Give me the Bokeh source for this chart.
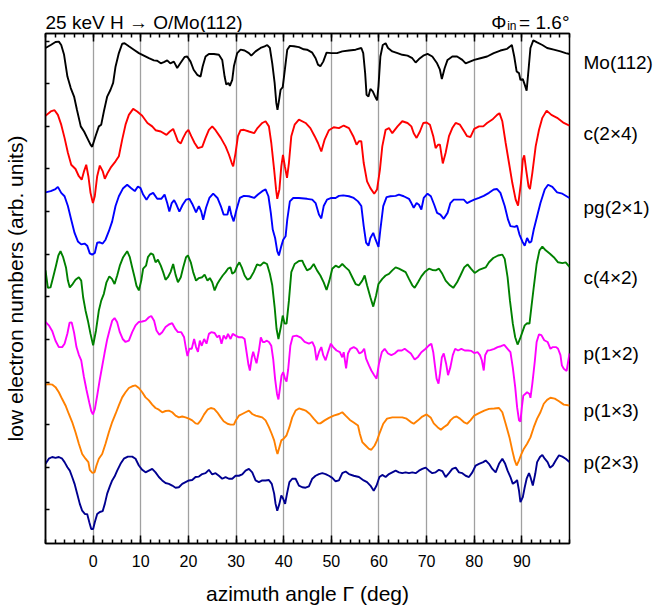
from bokeh.plotting import figure
from bokeh.models import Range1d, FixedTicker, LinearAxis
from bokeh.layouts import column, row
from bokeh.core.properties import value
from bokeh.embed import file_html
from bokeh.resources import INLINE

# ---------------- data (azimuth angle in deg, signal in arb. units, offset stacked) ----------------
ANGLE_TICKS = [0, 10, 20, 30, 40, 50, 60, 70, 80, 90]
ANGLE_MINOR = list(range(-10, 101, 2))
SIGNAL_TICKS = list(range(0, 12))

MO112 = [(-10, 10.84), (-8.9, 10.91), (-7.9, 10.98), (-7.2, 10.99), (-6.7, 10.91), (-6.1, 10.68),
         (-5.4, 10.17), (-4.7, 9.9), (-4.0, 9.7), (-3.4, 9.39), (-2.6, 9.0), (-1.9, 8.88), (-1.25, 8.73),
         (-0.55, 8.57), (-0.2, 8.52), (0.5, 8.77), (1.2, 9.0), (1.7, 9.04), (2.25, 9.35), (2.95, 9.7),
         (3.65, 9.86), (4.2, 10.02), (4.7, 10.4), (5.4, 10.72), (6.1, 10.94), (6.6, 10.95), (7.5, 10.88),
         (8.55, 10.8), (9.6, 10.72), (10.65, 10.66), (11.7, 10.6), (12.75, 10.55), (13.45, 10.54),
         (14.2, 10.48), (14.85, 10.51), (15.55, 10.55), (16.2, 10.48), (16.95, 10.52), (17.65, 10.37),
         (18.3, 10.48), (19.2, 10.63), (19.75, 10.64), (20.45, 10.52), (21.1, 10.33), (21.85, 10.21),
         (22.55, 10.17), (23.0, 10.41), (23.6, 10.64), (24.3, 10.7), (25.35, 10.7), (26.4, 10.68),
         (27.1, 10.56), (27.6, 10.17), (27.95, 9.98), (28.4, 10.02), (28.7, 9.95), (29.2, 10.09),
         (29.55, 10.41), (30.25, 10.72), (30.95, 10.8), (31.8, 10.78), (32.7, 10.72), (33.2, 10.66),
         (34.1, 10.76), (35.15, 10.84), (36.0, 10.88), (36.55, 10.91), (37.1, 10.84), (37.6, 10.48),
         (38.1, 10.02), (38.45, 9.55), (38.7, 9.39), (39.05, 9.63), (39.35, 9.86), (39.8, 9.92),
         (40.25, 10.33), (40.75, 10.8), (41.3, 10.89), (42.15, 10.88), (43.2, 10.86), (44.2, 10.81),
         (44.9, 10.8), (46.0, 10.73), (46.7, 10.6), (47.2, 10.45), (47.7, 10.41), (48.3, 10.52),
         (49.0, 10.73), (50.0, 10.72), (51.2, 10.72), (52.3, 10.76), (53.7, 10.78), (55.1, 10.8),
         (56.3, 10.84), (56.7, 10.72), (57.1, 10.25), (57.4, 9.74), (57.8, 9.7), (58.2, 9.88),
         (58.7, 9.82), (59.2, 9.7), (59.6, 9.61), (59.9, 9.94), (60.3, 10.64), (60.8, 10.91),
         (61.4, 10.95), (61.9, 10.84), (62.8, 10.76), (63.9, 10.72), (64.9, 10.68), (66.0, 10.66),
         (67.0, 10.6), (67.7, 10.5), (68.4, 10.58), (69.3, 10.66), (70.2, 10.7), (71.2, 10.64),
         (72.2, 10.48), (72.8, 10.33), (73.2, 10.11), (73.8, 10.37), (74.4, 10.56), (75.4, 10.64),
         (76.4, 10.64), (77.5, 10.56), (78.2, 10.48), (79.1, 10.52), (80.0, 10.56), (81.3, 10.6),
         (82.7, 10.64), (84.1, 10.72), (85.5, 10.78), (86.9, 10.82), (87.9, 10.91), (88.4, 10.64),
         (88.9, 10.29), (89.4, 10.25), (89.7, 10.09), (90.2, 10.11), (90.6, 9.98), (91.0, 9.84),
         (91.4, 10.33), (91.8, 10.84), (92.4, 11.02), (93.2, 10.97), (94.3, 10.91), (95.3, 10.84),
         (96.7, 10.8), (98.1, 10.76), (99.2, 10.72), (100, 10.7)]

C2X4 = [(-10, 9.25), (-8.9, 9.35), (-8.1, 9.38), (-7.4, 9.27), (-6.7, 9.04), (-6.0, 8.73), (-5.3, 8.38),
        (-4.6, 8.1), (-3.7, 8.0), (-3.0, 7.83), (-2.4, 7.75), (-1.9, 7.95), (-1.45, 8.1), (-1.0, 7.83),
        (-0.55, 7.44), (-0.05, 7.2), (0.35, 7.36), (0.85, 7.83), (1.4, 8.08), (2.0, 7.95), (2.45, 7.77),
        (3.1, 7.92), (3.8, 8.05), (4.7, 8.18), (5.4, 8.3), (6.1, 8.69), (6.8, 9.04), (7.5, 9.27),
        (8.4, 9.41), (9.25, 9.35), (10.3, 9.25), (11.4, 9.08), (12.4, 9.0), (13.1, 8.91), (14.2, 8.88),
        (15.4, 8.8), (16.1, 8.88), (16.8, 8.94), (17.3, 8.8), (17.8, 8.65), (18.4, 8.6), (18.9, 8.73),
        (19.5, 8.86), (20.0, 8.92), (20.6, 8.77), (21.3, 8.61), (22.0, 8.49), (22.9, 8.52), (23.6, 8.73),
        (24.3, 8.92), (25.0, 9.0), (25.7, 8.91), (26.8, 8.73), (27.8, 8.53), (28.5, 8.34), (29.1, 8.14),
        (29.4, 8.06), (29.9, 8.38), (30.4, 8.77), (30.95, 8.91), (31.65, 8.92), (32.7, 8.88),
        (33.8, 8.84), (34.5, 8.96), (35.5, 9.08), (36.2, 9.12), (36.9, 9.0), (37.4, 8.61), (38.0, 7.98),
        (38.4, 7.52), (38.65, 7.3), (39.1, 7.52), (39.5, 8.06), (39.85, 8.33), (40.25, 8.06),
        (40.7, 7.79), (41.1, 8.14), (41.6, 8.77), (42.3, 9.04), (43.2, 9.16), (44.6, 9.08), (45.6, 8.96),
        (46.5, 8.77), (47.2, 8.61), (47.9, 8.41), (48.6, 8.69), (49.5, 8.91), (50.5, 8.98), (51.6, 8.96),
        (52.6, 9.02), (53.7, 8.96), (54.6, 8.77), (55.3, 8.57), (55.8, 8.65), (56.3, 8.65), (56.8, 8.14),
        (57.5, 7.71), (58.2, 7.55), (59.0, 7.42), (59.6, 7.52), (60.2, 7.98), (60.7, 8.53), (61.4, 8.92),
        (62.1, 8.96), (62.8, 8.84), (63.9, 9.0), (64.9, 9.12), (66.0, 9.08), (66.8, 9.0), (67.3, 8.84),
        (67.9, 8.73), (68.6, 8.88), (69.3, 9.08), (70.0, 9.09), (70.7, 9.04), (71.4, 8.77), (71.9, 8.49),
        (72.4, 8.57), (72.8, 8.57), (73.4, 8.13), (74.0, 8.38), (74.7, 8.77), (75.4, 8.96), (76.1, 9.08),
        (77.0, 9.04), (77.9, 8.88), (78.5, 8.77), (79.2, 8.75), (80.0, 8.94), (81.0, 9.0), (81.9, 9.0),
        (82.7, 9.08), (83.8, 9.16), (84.8, 9.27), (85.3, 9.31), (85.9, 9.12), (86.6, 8.61), (87.3, 8.14),
        (88.0, 7.67), (88.7, 7.28), (89.2, 7.14), (89.8, 7.67), (90.2, 8.22), (90.5, 8.32), (90.9, 7.98),
        (91.4, 7.59), (91.7, 7.53), (92.2, 7.91), (92.9, 8.53), (93.6, 8.92), (94.3, 9.2), (95.2, 9.37),
        (96.2, 9.27), (97.4, 9.2), (98.8, 9.08), (100, 9.02)]

PG2X1 = [(-10, 7.45), (-8.9, 7.48), (-7.9, 7.53), (-7.4, 7.58), (-6.7, 7.44), (-6.0, 7.36), (-5.3, 7.13),
         (-4.6, 6.81), (-3.9, 6.5), (-3.2, 6.3), (-2.5, 6.23), (-1.8, 6.25), (-1.25, 6.2), (-0.7, 6.02),
         (-0.2, 5.99), (0.35, 6.03), (0.85, 6.27), (1.4, 6.28), (2.0, 6.25), (2.6, 6.34), (3.3, 6.54),
         (4.0, 6.77), (4.7, 7.13), (5.4, 7.36), (6.3, 7.55), (7.15, 7.63), (8.0, 7.55), (8.75, 7.48),
         (9.4, 7.59), (9.95, 7.55), (10.5, 7.4), (11.2, 7.28), (11.9, 7.4), (12.6, 7.44), (13.45, 7.3),
         (14.3, 7.3), (15.0, 7.4), (15.55, 7.2), (16.0, 7.0), (16.5, 7.2), (17.0, 7.27), (17.5, 7.16),
         (18.1, 7.0), (18.8, 7.16), (19.5, 7.28), (20.2, 7.3), (20.9, 7.16), (21.6, 6.98), (22.2, 7.13),
         (22.7, 7.0), (23.1, 6.81), (23.7, 7.09), (24.4, 7.32), (25.2, 7.42), (26.1, 7.32), (26.8, 7.13),
         (27.4, 6.93), (28.2, 6.93), (28.6, 7.13), (29.0, 6.93), (29.5, 6.77), (30.1, 7.05), (30.8, 7.32),
         (31.65, 7.37), (32.7, 7.36), (33.8, 7.32), (34.6, 7.4), (35.5, 7.48), (36.2, 7.52), (36.8, 7.36),
         (37.3, 6.97), (37.7, 6.58), (38.2, 6.38), (38.65, 6.07), (39.0, 5.97), (39.5, 6.19), (39.9, 6.34),
         (40.4, 6.42), (40.75, 6.81), (41.3, 7.24), (42.0, 7.32), (43.2, 7.32), (44.9, 7.3), (46.0, 7.28),
         (46.7, 7.2), (47.4, 6.93), (47.9, 6.84), (48.4, 7.13), (49.1, 7.28), (50.0, 7.32), (50.9, 7.32),
         (51.6, 7.37), (52.5, 7.38), (53.7, 7.36), (54.7, 7.32), (55.6, 7.24), (56.3, 7.13), (56.8, 6.66),
         (57.3, 6.27), (57.8, 6.2), (58.2, 6.38), (58.8, 6.5), (59.3, 6.34), (59.9, 6.17), (60.3, 6.58),
         (60.9, 7.13), (61.6, 7.34), (62.4, 7.36), (63.5, 7.37), (64.2, 7.4), (65.2, 7.36), (66.3, 7.3),
         (66.8, 7.2), (67.3, 7.09), (67.9, 7.2), (68.4, 7.16), (68.9, 7.05), (69.4, 7.32), (70.2, 7.42),
         (70.9, 7.36), (71.6, 7.16), (72.2, 6.97), (72.9, 6.93), (73.6, 6.83), (74.4, 6.97), (75.0, 7.2),
         (75.7, 7.28), (76.8, 7.28), (77.8, 7.28), (78.5, 7.2), (79.2, 7.24), (80.0, 7.28), (81.0, 7.32),
         (82.0, 7.37), (83.1, 7.44), (84.1, 7.52), (84.8, 7.53), (85.5, 7.44), (86.4, 7.13), (87.1, 6.81),
         (87.6, 6.66), (88.5, 6.64), (89.0, 6.67), (89.5, 6.46), (90.1, 6.3), (90.6, 6.2), (91.1, 6.38),
         (91.6, 6.27), (92.0, 6.3), (92.5, 6.58), (93.2, 6.89), (93.9, 7.2), (94.8, 7.52), (95.5, 7.63),
         (96.4, 7.58), (97.4, 7.45), (98.5, 7.42), (100, 7.32)]

C4X2 = [(-10, 5.62), (-9.5, 5.21), (-8.95, 5.22), (-8.4, 5.46), (-7.8, 5.73), (-7.3, 5.97), (-6.85, 6.07),
        (-6.3, 5.93), (-5.7, 5.69), (-5.3, 5.38), (-4.9, 5.22), (-4.3, 5.3), (-3.7, 5.4), (-3.0, 5.46),
        (-2.5, 5.38), (-2.1, 4.99), (-1.6, 4.68), (-1.1, 4.44), (-0.55, 4.13), (0.0, 3.86), (0.6, 4.21),
        (1.2, 4.68), (1.7, 4.91), (2.25, 5.07), (2.8, 5.34), (3.4, 5.48), (3.95, 5.42), (4.5, 5.3),
        (5.05, 5.5), (5.6, 5.73), (6.3, 5.93), (7.15, 6.07), (7.7, 5.93), (8.2, 5.69), (8.7, 5.46),
        (9.1, 5.26), (9.6, 5.15), (10.1, 5.38), (10.5, 5.66), (11.1, 5.73), (11.5, 5.93), (12.1, 6.02),
        (12.6, 5.99), (13.1, 5.81), (13.6, 5.87), (14.2, 5.73), (14.7, 5.58), (15.2, 5.4), (15.7, 5.46),
        (16.25, 5.58), (16.8, 5.77), (17.3, 5.52), (17.8, 5.34), (18.4, 5.46), (18.9, 5.69), (19.5, 5.93),
        (19.9, 5.97), (20.5, 5.81), (21.0, 5.58), (21.6, 5.38), (22.2, 5.44), (22.9, 5.46), (23.4, 5.52),
        (24.0, 5.38), (24.5, 5.44), (25.0, 5.34), (25.5, 5.15), (26.05, 5.3), (26.6, 5.4), (27.2, 5.5),
        (27.8, 5.58), (28.3, 5.66), (28.85, 5.69), (29.2, 5.54), (29.7, 5.58), (30.25, 5.73), (30.7, 5.81),
        (31.2, 5.69), (31.8, 5.5), (32.4, 5.4), (33.0, 5.44), (33.7, 5.58), (34.4, 5.76), (35.1, 5.73),
        (35.8, 5.81), (36.5, 5.77), (37.1, 5.54), (37.6, 5.27), (38.1, 4.76), (38.5, 4.25), (38.9, 4.01),
        (39.4, 4.29), (39.8, 4.56), (40.2, 4.37), (40.6, 4.37), (41.1, 4.91), (41.6, 5.58), (42.3, 5.77),
        (43.2, 5.84), (43.9, 5.85), (44.2, 5.77), (44.9, 5.62), (45.6, 5.66), (46.3, 5.77), (47.0, 5.62),
        (47.7, 5.5), (48.4, 5.34), (49.0, 5.16), (49.6, 5.38), (50.2, 5.66), (50.9, 5.73), (51.6, 5.69),
        (52.3, 5.77), (53.0, 5.69), (53.7, 5.62), (54.4, 5.46), (55.1, 5.3), (55.8, 5.27), (56.5, 5.38),
        (57.0, 5.5), (57.5, 5.27), (58.2, 4.99), (58.8, 4.77), (59.4, 5.03), (59.9, 5.3), (60.7, 5.42),
        (61.4, 5.5), (62.1, 5.54), (62.8, 5.62), (63.5, 5.69), (64.2, 5.66), (64.9, 5.62), (65.6, 5.58),
        (66.3, 5.42), (67.0, 5.27), (67.5, 5.21), (68.2, 5.34), (68.9, 5.48), (69.6, 5.58), (70.5, 5.66),
        (71.2, 5.63), (71.9, 5.62), (72.6, 5.66), (73.3, 5.54), (74.0, 5.38), (74.9, 5.27), (75.6, 5.21),
        (76.4, 5.34), (77.1, 5.5), (77.9, 5.69), (78.6, 5.76), (79.3, 5.66), (80.1, 5.56), (81.0, 5.63),
        (81.7, 5.66), (82.4, 5.69), (83.1, 5.81), (84.0, 5.91), (85.0, 5.97), (85.9, 5.99), (86.4, 5.89),
        (87.0, 5.46), (87.5, 4.91), (88.1, 4.37), (88.6, 4.05), (89.1, 3.88), (89.6, 4.01), (90.1, 4.17),
        (90.6, 4.33), (91.1, 4.38), (91.6, 4.37), (92.0, 4.76), (92.5, 5.23), (93.1, 5.77), (93.7, 6.09),
        (94.3, 6.18), (95.0, 6.09), (95.9, 6.01), (96.7, 5.93), (97.6, 5.81), (98.5, 5.79), (99.2, 5.81),
        (100, 5.7)]

P1X2 = [(-10, 4.41), (-9.3, 4.33), (-8.6, 4.2), (-7.9, 3.97), (-7.2, 3.82), (-6.5, 3.82), (-6.0, 3.9),
        (-5.4, 4.14), (-4.95, 4.39), (-4.5, 4.4), (-4.0, 4.16), (-3.5, 3.82), (-3.0, 3.64), (-2.5, 3.51),
        (-1.95, 3.13), (-1.4, 2.82), (-0.8, 2.51), (-0.4, 2.32), (-0.05, 2.24), (0.35, 2.36), (0.85, 2.68),
        (1.4, 3.06), (1.9, 3.37), (2.4, 3.68), (2.95, 4.0), (3.5, 4.24), (4.0, 4.44), (4.5, 4.5),
        (5.05, 4.4), (5.6, 4.17), (6.2, 4.01), (6.8, 3.94), (7.5, 3.97), (8.2, 4.17), (8.9, 4.33),
        (9.6, 4.41), (10.3, 4.42), (11.0, 4.44), (11.7, 4.52), (12.2, 4.55), (12.8, 4.44), (13.3, 4.21),
        (13.9, 4.11), (14.5, 4.17), (15.2, 4.29), (15.9, 4.35), (16.6, 4.38), (17.3, 4.24), (17.8, 4.17),
        (18.5, 4.17), (19.1, 4.05), (19.5, 3.78), (19.8, 3.61), (20.2, 3.78), (20.7, 3.78), (21.2, 4.01),
        (21.6, 3.82), (22.0, 3.71), (22.4, 3.97), (22.8, 3.85), (23.3, 4.01), (23.8, 3.9), (24.3, 4.13),
        (24.8, 4.17), (25.5, 4.15), (26.05, 4.05), (26.5, 4.09), (26.95, 3.9), (27.4, 4.09), (27.9, 4.01),
        (28.3, 4.13), (28.85, 4.01), (29.3, 4.13), (29.9, 4.09), (30.6, 4.05), (31.3, 4.05), (31.8, 4.01),
        (32.2, 3.71), (32.6, 3.41), (32.9, 3.27), (33.3, 3.57), (33.6, 3.71), (33.95, 3.57), (34.3, 3.44),
        (34.8, 3.74), (35.2, 4.05), (35.6, 3.94), (36.0, 3.94), (36.4, 3.97), (36.9, 3.94), (37.4, 3.85),
        (37.8, 3.54), (38.2, 3.07), (38.6, 2.72), (38.9, 2.59), (39.2, 2.84), (39.55, 3.15), (39.9, 3.23),
        (40.3, 3.07), (40.6, 3.01), (40.95, 3.3), (41.4, 3.85), (41.9, 4.07), (42.7, 4.09), (43.6, 4.04),
        (44.4, 3.94), (45.3, 3.9), (46.0, 3.94), (46.5, 3.82), (46.9, 3.51), (47.4, 3.7), (47.9, 3.82),
        (48.3, 3.63), (48.8, 3.51), (49.3, 3.7), (49.9, 3.9), (50.4, 3.82), (51.1, 3.74), (51.8, 3.7),
        (52.3, 3.58), (52.6, 3.7), (53.1, 3.32), (53.5, 3.67), (54.0, 3.78), (54.7, 3.82), (55.3, 3.78),
        (55.9, 3.67), (56.4, 3.7), (56.9, 3.78), (57.3, 3.55), (57.9, 3.39), (58.4, 3.27), (59.0, 3.16),
        (59.5, 3.08), (60.0, 3.43), (60.6, 3.7), (61.2, 3.78), (61.9, 3.67), (62.6, 3.63), (63.3, 3.67),
        (64.0, 3.74), (64.8, 3.74), (65.4, 3.78), (66.0, 3.73), (66.7, 3.67), (67.5, 3.53), (68.2, 3.59),
        (68.9, 3.7), (69.8, 3.78), (70.5, 3.86), (71.0, 3.9), (71.4, 3.7), (71.8, 3.34), (72.1, 3.08),
        (72.5, 2.96), (72.8, 3.19), (73.2, 3.58), (73.6, 3.67), (74.1, 3.43), (74.5, 3.16), (75.0, 3.35),
        (75.5, 3.63), (76.0, 3.78), (76.6, 3.74), (77.3, 3.78), (78.0, 3.74), (78.7, 3.74), (79.4, 3.73),
        (80.0, 3.68), (80.7, 3.7), (81.2, 3.63), (81.6, 3.51), (82.0, 3.27), (82.3, 3.63), (82.8, 3.74),
        (83.4, 3.75), (84.2, 3.78), (84.9, 3.82), (85.6, 3.84), (86.3, 3.87), (87.0, 3.78), (87.6, 3.7),
        (88.1, 3.34), (88.6, 2.88), (89.0, 2.41), (89.4, 2.1), (89.7, 2.07), (90.0, 2.41), (90.3, 2.68),
        (90.7, 2.72), (91.1, 2.76), (91.6, 2.72), (91.8, 2.63), (92.2, 2.96), (92.7, 3.47), (93.1, 3.94),
        (93.6, 4.12), (94.1, 4.1), (94.7, 3.98), (95.4, 3.94), (96.0, 3.78), (96.5, 3.82), (97.2, 3.82),
        (97.6, 3.78), (98.1, 3.63), (98.4, 3.39), (98.8, 3.31), (99.4, 3.26), (100, 3.67)]

P1X3 = [(-10, 2.94), (-9.3, 2.95), (-8.6, 2.94), (-7.9, 2.88), (-7.2, 2.76), (-6.5, 2.6), (-5.8, 2.45),
        (-5.1, 2.25), (-4.4, 2.06), (-3.7, 1.82), (-3.0, 1.55), (-2.3, 1.31), (-1.6, 1.2), (-1.0, 1.12),
        (-0.7, 0.94), (-0.2, 0.87), (0.3, 0.88), (0.7, 1.04), (1.2, 1.2), (1.9, 1.31), (2.6, 1.55),
        (3.3, 1.82), (4.0, 2.06), (4.7, 2.25), (5.4, 2.45), (6.1, 2.64), (6.8, 2.76), (7.5, 2.86),
        (8.2, 2.9), (8.9, 2.92), (9.6, 2.86), (10.3, 2.76), (11.0, 2.64), (11.7, 2.57), (12.4, 2.47),
        (13.1, 2.39), (13.8, 2.35), (14.5, 2.29), (15.2, 2.32), (15.9, 2.33), (16.6, 2.29), (17.3, 2.21),
        (18.0, 2.17), (18.7, 2.19), (19.4, 2.17), (20.1, 2.14), (20.8, 2.1), (21.5, 2.03), (22.0, 2.02),
        (22.6, 2.1), (23.3, 2.24), (24.0, 2.35), (24.7, 2.39), (25.4, 2.37), (26.05, 2.29), (26.8, 2.17),
        (27.4, 2.08), (28.2, 2.02), (28.85, 2.0), (29.55, 2.0), (30.0, 2.11), (30.6, 2.21), (31.3, 2.25),
        (32.0, 2.29), (32.7, 2.33), (33.4, 2.25), (34.1, 2.21), (34.8, 2.19), (35.5, 2.17), (36.2, 2.1),
        (36.9, 1.94), (37.5, 1.78), (38.0, 1.63), (38.4, 1.43), (38.7, 1.31), (39.1, 1.47), (39.5, 1.63),
        (40.0, 1.67), (40.6, 1.75), (41.2, 1.94), (41.8, 2.17), (42.5, 2.33), (43.2, 2.38), (44.1, 2.35),
        (44.6, 2.33), (45.5, 2.25), (46.3, 2.14), (47.2, 2.03), (47.7, 2.03), (48.6, 2.1), (49.5, 2.16),
        (50.5, 2.21), (51.6, 2.25), (52.3, 2.29), (53.0, 2.21), (53.9, 2.11), (54.7, 2.05), (55.6, 1.98),
        (56.0, 1.78), (56.5, 1.59), (57.2, 1.51), (57.9, 1.43), (58.4, 1.41), (59.1, 1.51), (59.6, 1.63),
        (60.2, 1.82), (60.9, 2.02), (61.7, 2.14), (62.8, 2.17), (63.8, 2.17), (64.9, 2.17), (65.8, 2.14),
        (66.7, 2.06), (67.3, 2.02), (68.2, 2.1), (69.1, 2.19), (70.0, 2.24), (70.9, 2.16), (71.5, 2.03),
        (72.3, 1.94), (73.0, 1.88), (73.6, 1.94), (74.4, 2.0), (75.0, 2.1), (75.7, 2.17), (76.3, 2.19),
        (77.0, 2.14), (77.8, 2.06), (78.5, 2.02), (79.2, 2.1), (80.0, 2.21), (81.0, 2.27), (82.1, 2.33),
        (83.1, 2.37), (84.2, 2.38), (85.2, 2.39), (85.9, 2.29), (86.6, 2.02), (87.4, 1.7), (88.0, 1.39),
        (88.5, 1.16), (88.9, 1.04), (89.4, 1.16), (89.9, 1.31), (90.4, 1.43), (91.1, 1.55), (91.8, 1.7),
        (92.5, 1.94), (93.2, 2.14), (93.9, 2.29), (94.6, 2.49), (95.3, 2.58), (96.0, 2.63), (96.9, 2.61),
        (97.8, 2.55), (98.8, 2.47), (100, 2.45)]

P2X3 = [(-10, 1.08), (-9.3, 1.2), (-8.6, 1.24), (-7.9, 1.22), (-7.2, 1.24), (-6.5, 1.2), (-6.0, 1.12),
        (-5.4, 1.0), (-4.9, 0.92), (-4.4, 0.77), (-3.9, 0.61), (-3.35, 0.38), (-2.8, 0.14), (-2.3, -0.02),
        (-1.7, -0.1), (-1.25, -0.1), (-0.8, -0.29), (-0.4, -0.45), (0.0, -0.45), (0.35, -0.29),
        (0.85, -0.1), (1.4, -0.05), (2.0, -0.03), (2.45, 0.14), (2.95, 0.38), (3.5, 0.55), (4.0, 0.69),
        (4.5, 0.78), (5.05, 0.92), (5.75, 1.08), (6.45, 1.2), (7.3, 1.25), (8.2, 1.25), (8.9, 1.2),
        (9.6, 1.04), (10.3, 0.94), (11.0, 0.88), (11.7, 0.92), (12.4, 0.96), (13.1, 0.88), (13.8, 0.77),
        (14.5, 0.69), (15.2, 0.63), (15.9, 0.61), (16.6, 0.57), (17.3, 0.52), (18.0, 0.53), (18.7, 0.61),
        (19.4, 0.65), (20.1, 0.69), (20.8, 0.7), (21.5, 0.77), (22.2, 0.78), (22.9, 0.84), (23.6, 0.86),
        (24.3, 0.94), (25.0, 0.83), (25.7, 0.86), (26.4, 0.8), (27.1, 0.73), (27.8, 0.77), (28.5, 0.73),
        (29.2, 0.73), (29.9, 0.8), (30.6, 0.8), (31.3, 0.83), (32.0, 0.92), (32.7, 0.96), (33.4, 0.88),
        (34.1, 0.69), (34.8, 0.65), (35.5, 0.69), (36.2, 0.69), (36.9, 0.7), (37.5, 0.61), (38.0, 0.38),
        (38.3, 0.14), (38.65, -0.02), (39.1, 0.14), (39.5, 0.34), (39.9, 0.26), (40.3, 0.14), (40.7, 0.38),
        (41.2, 0.65), (41.8, 0.73), (42.5, 0.73), (43.2, 0.57), (43.9, 0.53), (44.6, 0.52), (45.3, 0.55),
        (46.0, 0.73), (46.7, 0.8), (47.4, 0.84), (48.1, 0.86), (48.8, 0.84), (49.5, 0.8), (50.2, 0.75),
        (50.9, 0.67), (51.6, 0.69), (52.3, 0.86), (53.0, 0.9), (53.7, 0.84), (54.7, 0.8), (55.8, 0.77),
        (56.8, 0.69), (57.5, 0.65), (58.2, 0.57), (58.9, 0.45), (59.5, 0.57), (60.1, 0.77), (60.7, 0.82),
        (61.4, 0.77), (62.1, 0.84), (62.8, 0.88), (63.5, 0.92), (64.2, 0.88), (64.9, 0.86), (65.6, 0.88),
        (66.3, 0.86), (67.0, 0.88), (67.7, 0.86), (68.4, 0.92), (69.1, 0.96), (69.8, 0.99), (70.5, 0.92),
        (71.2, 0.86), (71.9, 0.88), (72.6, 0.94), (73.3, 0.91), (74.0, 0.77), (74.7, 0.86), (75.4, 0.96),
        (76.1, 0.99), (76.8, 0.88), (77.5, 0.86), (78.2, 0.8), (78.9, 0.77), (79.6, 0.88), (80.3, 1.04),
        (81.0, 1.08), (81.9, 1.12), (82.4, 1.16), (83.1, 1.08), (83.8, 0.96), (84.5, 0.88), (85.2, 1.08),
        (85.9, 1.2), (86.5, 1.08), (87.0, 0.92), (87.6, 0.77), (88.1, 0.61), (88.6, 0.65), (89.0, 0.7),
        (89.4, 0.45), (89.7, 0.18), (90.2, 0.3), (90.6, 0.53), (91.0, 0.73), (91.5, 0.86), (91.8, 0.77),
        (92.3, 0.57), (92.8, 0.84), (93.2, 1.12), (93.8, 1.24), (94.3, 1.29), (94.8, 1.2), (95.4, 1.12),
        (95.9, 0.99), (96.5, 1.04), (97.1, 1.16), (97.8, 1.28), (98.5, 1.25), (99.2, 1.2), (100, 1.12)]

SERIES_NAMES = ["Mo(112)", "c(2\u00d74)", "pg(2\u00d71)", "c(4\u00d72)", "p(1\u00d72)", "p(1\u00d73)", "p(2\u00d73)"]
SERIES_DATA = [MO112, C2X4, PG2X1, C4X2, P1X2, P1X3, P2X3]
SERIES_COLORS = ["#000000", "#ff0000", "#0000ff", "#008000", "#ff00ff", "#ff8000", "#000090"]
NAME_Y = [10.5, 8.83, 7.1, 5.45, 3.67, 2.33, 1.11]

TITLE_TEXT = "25 keV H \u2192 O/Mo(112)"
PHI_TEXT = "\u03a6"
PHI_SUB = "in"
PHI_VALUE = "= 1.6\u00b0"

FONT = "Liberation Sans"
X_RANGE = Range1d(-10, 100)
Y_RANGE = Range1d(-0.79, 11.18)

# ---------------- top strip with the heading texts (strip coordinates in px) ----------------
head = figure(width=664, height=32, x_range=Range1d(0, 664), y_range=Range1d(0, 32),
              output_backend="svg", toolbar_location=None, title=None,
              x_axis_type=None, y_axis_type=None,
              min_border_left=0, min_border_right=0, min_border_top=0, min_border_bottom=0)
head.outline_line_color = None
head.grid.visible = False
head.text(x=[45], y=[10], text=[TITLE_TEXT], text_align="left", text_baseline="alphabetic",
          text_font=value(FONT), text_font_size="19px", text_color="black")
head.text(x=[569], y=[10], text=[PHI_VALUE], text_align="right", text_baseline="alphabetic",
          text_font=value(FONT), text_font_size="19px", text_color="black")
head.text(x=[516], y=[7], text=[PHI_SUB], text_align="right", text_baseline="alphabetic",
          text_font=value(FONT), text_font_size="12px", text_color="black")
head.text(x=[506], y=[10], text=[PHI_TEXT], text_align="right", text_baseline="alphabetic",
          text_font=value(FONT), text_font_size="19px", text_color="black")

# ---------------- main plot ----------------
p = figure(width=571, height=580, x_range=X_RANGE, y_range=Y_RANGE,
           output_backend="svg", toolbar_location=None, title=None,
           min_border_left=45, min_border_right=2, min_border_top=1, min_border_bottom=69)
p.background_fill_color = "white"
p.border_fill_color = "white"
p.outline_line_color = "black"
p.outline_line_width = 1.5
p.ygrid.visible = False
p.xgrid.grid_line_color = "#a0a0a0"
p.xgrid.grid_line_width = 1.3

xa = p.xaxis[0]
xa.ticker = FixedTicker(ticks=ANGLE_TICKS, minor_ticks=ANGLE_MINOR)
xa.major_tick_in = 8
xa.major_tick_out = 0
xa.minor_tick_in = 4
xa.minor_tick_out = 0
xa.major_tick_line_width = 1.5
xa.minor_tick_line_width = 1.5
xa.axis_line_width = 1.5
xa.major_label_standoff = 11
xa.major_label_text_font = FONT
xa.major_label_text_font_size = "16px"
xa.major_label_text_color = "black"
xa.axis_label = "azimuth angle \u0393 (deg)"
xa.axis_label_text_font = FONT
xa.axis_label_text_font_size = "21px"
xa.axis_label_text_font_style = "normal"
xa.axis_label_text_color = "black"
xa.axis_label_standoff = 12

top = LinearAxis(ticker=FixedTicker(ticks=ANGLE_TICKS, minor_ticks=ANGLE_MINOR),
                 major_tick_in=8, major_tick_out=0, minor_tick_in=4, minor_tick_out=0,
                 major_tick_line_width=1.5, minor_tick_line_width=1.5, axis_line_width=1.5,
                 major_label_text_font_size="1px", major_label_text_color=None, major_label_standoff=0)
p.add_layout(top, "above")

ya = p.yaxis[0]
ya.ticker = FixedTicker(ticks=SIGNAL_TICKS, minor_ticks=[])
ya.major_tick_in = 4
ya.major_tick_out = 0
ya.minor_tick_in = 0
ya.minor_tick_out = 0
ya.major_tick_line_width = 1.5
ya.axis_line_width = 1.5
ya.major_label_text_font_size = "1px"
ya.major_label_text_color = None
ya.major_label_standoff = 0
ya.axis_label = "low electron numbers (arb. units)"
ya.axis_label_text_font = FONT
ya.axis_label_text_font_size = "21px"
ya.axis_label_text_font_style = "normal"
ya.axis_label_text_color = "black"
ya.axis_label_standoff = 19

for data, color in zip(SERIES_DATA, SERIES_COLORS):
    xs = [d[0] for d in data]
    ys = [d[1] for d in data]
    p.line(xs, ys, line_color=color, line_width=1.9)

# ---------------- right strip with the series names ----------------
side = figure(width=93, height=580, x_range=Range1d(0, 93), y_range=Y_RANGE,
              output_backend="svg", toolbar_location=None, title=None,
              x_axis_type=None, y_axis_type=None,
              min_border_left=0, min_border_right=0, min_border_top=1, min_border_bottom=69)
side.outline_line_color = None
side.grid.visible = False
side.text(x=[12] * len(SERIES_NAMES), y=NAME_Y, text=SERIES_NAMES, text_align="left",
          text_baseline="middle", text_font=value(FONT), text_font_size="19px", text_color="black")

layout = column(head, row(p, side))
open("out.html", "w").write(file_html(layout, INLINE))
